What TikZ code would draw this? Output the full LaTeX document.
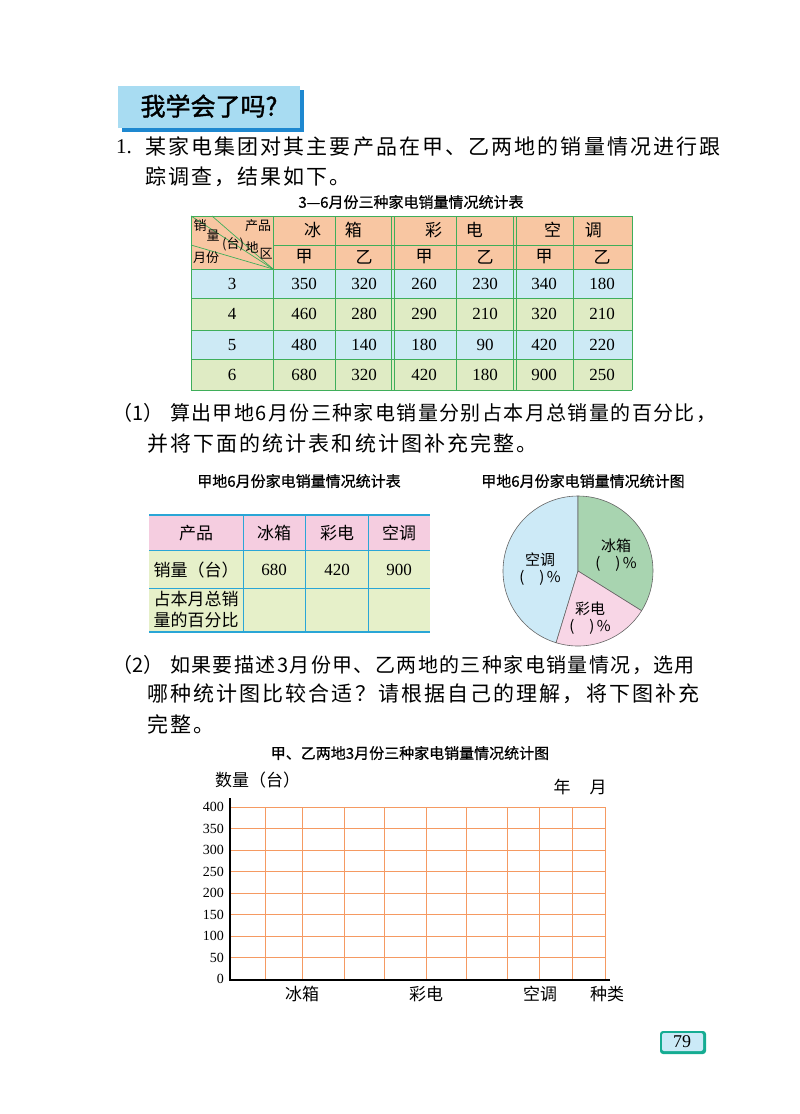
\documentclass[tikz,border=0pt]{standalone}
\usepackage{fontspec}
\setmainfont{Liberation Serif}
\newfontfamily\cjk{Noto Sans CJK SC}
\newfontfamily\cjkb{Noto Sans CJK SC}[FakeBold=1.5]
\newfontfamily\cjksp{Noto Sans CJK SC}[LetterSpace=10]
\newfontfamily\cjkspb{Noto Sans CJK SC}[LetterSpace=7]
\newfontfamily\hei{Noto Sans CJK SC}[FakeBold=0.8]
\definecolor{hOr}{HTML}{F8C6A2}
\definecolor{rBl}{HTML}{CDEAF5}
\definecolor{rGr}{HTML}{DFEBC4}
\definecolor{gLn}{HTML}{3FAE5A}
\definecolor{pk}{HTML}{F5CDE0}
\definecolor{lg}{HTML}{E6F0C9}
\definecolor{bLn}{HTML}{2AA6D6}
\definecolor{pBl}{HTML}{CDEAF7}
\definecolor{pGr}{HTML}{A8D4B0}
\definecolor{pPk}{HTML}{F8D6E6}
\definecolor{grd}{HTML}{F59A62}
\definecolor{hdr}{HTML}{A8DCF2}
\definecolor{hdrS}{HTML}{1E88D0}
\tikzset{
 body/.style={anchor=west,inner sep=0,font=\fontsize{21}{21}\cjksp},
 bodyb/.style={anchor=west,inner sep=0,font=\fontsize{20}{20}\cjkspb},
 ttl/.style={inner sep=0,font=\fontsize{15}{15}\hei},
 num/.style={inner sep=0,font=\fontsize{17}{17}\selectfont},
 ct/.style={inner sep=0,font=\fontsize{17}{17}\cjk},
 sm/.style={inner sep=0,font=\fontsize{13}{13}\cjk},
 pl/.style={inner sep=0,align=center,font=\fontsize{15}{17}\cjk},
}
\begin{document}
\begin{tikzpicture}[x=1pt,y=-1pt]
\useasboundingbox (0,0) rectangle (800,1114);
% header
\fill[hdrS] (122,90) rectangle (304,132);
\fill[hdr] (118,86) rectangle (300,128);
\node[inner sep=0,font=\fontsize{25}{25}\cjkb] (hd) at (209,106) {我学会了吗?};
\node[anchor=west,inner sep=0,font=\fontsize{21}{21}\selectfont] (n1) at (116,147) {1.};
\node[body] (l1) at (145,147) {某家电集团对其主要产品在甲、乙两地的销量情况进行跟};
\node[body] (l2) at (145,177) {踪调查，结果如下。};
% table 1
\node[ttl] (t1) at (411,202) {3—6月份三种家电销量情况统计表};
\fill[hOr] (191,216) rectangle (632,269);
\fill[rBl] (191,269) rectangle (632,298);
\fill[rGr] (191,298) rectangle (632,330);
\fill[rBl] (191,330) rectangle (632,359);
\fill[rGr] (191,359) rectangle (632,390);
\begin{scope}[gLn,line width=1pt]
\foreach \y in {216,269,298,330,359,390} \draw (191,\y) -- (632,\y);
\draw (273,245) -- (632,245);
\foreach \x in {191,273,335,456,573,632} \draw (\x,216) -- (\x,390);
\foreach \x in {393,515} {\draw (\x-1.5,216) -- (\x-1.5,390); \draw (\x+1.5,216) -- (\x+1.5,390);}
\draw[line width=0.7pt] (191,216) -- (273,269);
\draw[line width=0.7pt] (212,216) -- (273,269);
\draw[line width=0.7pt] (191,245) -- (273,269);
\end{scope}
\node[sm] at (200,226) {销};
\node[sm] at (213,236) {量};
\node[sm] at (233,244) {(台)};
\node[sm] at (258,226) {产品};
\node[sm] at (252,247) {地};
\node[sm] at (266,254) {区};
\node[sm] at (206,258) {月份};
\node[ct] at (333,230) {冰\hspace{24pt}箱};
\node[ct] at (454,230) {彩\hspace{24pt}电};
\node[ct] at (573,230) {空\hspace{24pt}调};
\foreach \x/\t in {304/甲,364/乙,424/甲,485/乙,544/甲,602/乙} \node[ct] at (\x,257) {\t};
\foreach \y/\m/\a/\b/\c/\d/\e/\f in {284/3/350/320/260/230/340/180,314/4/460/280/290/210/320/210,345/5/480/140/180/90/420/220,375/6/680/320/420/180/900/250}{
 \node[num] at (232,\y) {\m};
 \node[num] at (304,\y) {\a}; \node[num] at (364,\y) {\b};
 \node[num] at (424,\y) {\c}; \node[num] at (485,\y) {\d};
 \node[num] at (544,\y) {\e}; \node[num] at (602,\y) {\f};}
% (1)
\node[anchor=west,inner sep=0,font=\fontsize{20}{20}\cjk] (p1n) at (112,413) {（1）};
\node[bodyb] (p1) at (170,413) {算出甲地6月份三种家电销量分别占本月总销量的百分比，};
\node[body] (p1b) at (147,443) {并将下面的统计表和统计图补充完整。};
% table 2
\node[ttl] (t2) at (299,481) {甲地6月份家电销量情况统计表};
\fill[pk] (149,515) rectangle (430,550);
\fill[lg] (149,550) rectangle (430,632);
\begin{scope}[bLn,line width=1pt]
\draw[line width=1.8pt] (149,515) -- (430,515);
\draw[line width=1.8pt] (149,632) -- (430,632);
\draw (149,550) -- (430,550); \draw (149,588) -- (430,588);
\foreach \x in {243,305,368} \draw (\x,515) -- (\x,632);
\end{scope}
\node[ct] at (196,533) {产品};
\node[ct] at (274,533) {冰箱};
\node[ct] at (337,533) {彩电};
\node[ct] at (399,533) {空调};
\node[ct] at (196,570) {销量（台）};
\node[num] at (274,570) {680};
\node[num] at (337,570) {420};
\node[num] at (399,570) {900};
\node[inner sep=0,align=left,font=\fontsize{17}{21}\cjk] at (196,610) {占本月总销\\量的百分比};
% pie
\node[ttl] (t3) at (583,481) {甲地6月份家电销量情况统计图};
\begin{scope}[shift={(578,571)},y=1pt]
\filldraw[fill=pBl,draw=gray!80!black,line width=0.6pt] (0,0) -- (90:75) arc (90:253:75) -- cycle;
\filldraw[fill=pGr,draw=gray!80!black,line width=0.6pt] (0,0) -- (90:75) arc (90:-32:75) -- cycle;
\filldraw[fill=pPk,draw=gray!80!black,line width=0.6pt] (0,0) -- (-32:75) arc (-32:-107:75) -- cycle;
\end{scope}
\node[pl] at (540,569) {空调\\(\quad)\,\%};
\node[pl] at (616,555) {冰箱\\(\quad)\,\%};
\node[pl] at (590,618) {彩电\\(\quad)\,\%};
% (2)
\node[anchor=west,inner sep=0,font=\fontsize{20}{20}\cjk] (q1n) at (112,665) {（2）};
\node[bodyb] (q1) at (170,665) {如果要描述3月份甲、乙两地的三种家电销量情况，选用};
\node[body] (q2) at (147,694) {哪种统计图比较合适？请根据自己的理解，将下图补充};
\node[body] (q3) at (147,724) {完整。};
% chart
\node[ttl] (t4) at (410,753) {甲、乙两地3月份三种家电销量情况统计图};
\node[ct,anchor=west] at (215,780) {数量（台）};
\node[ct] at (562,787) {年};
\node[ct] at (598,787) {月};
\begin{scope}[grd,line width=0.9pt]
\foreach \i in {0,...,8} \draw (230,{979-21.5*\i}) -- (605,{979-21.5*\i});
\foreach \x in {265,302,344,384,426,466,507,539,572,605} \draw (\x,807) -- (\x,979);
\end{scope}
\draw[line width=1.3pt] (230,798) -- (230,980) -- (610,980);
\foreach \i/\v in {0/0,1/50,2/100,3/150,4/200,5/250,6/300,7/350,8/400}
 \node[inner sep=0,anchor=east,font=\fontsize{14}{14}\selectfont] at (224,{979-21.5*\i}) {\v};
\node[ct] at (302,994) {冰箱};
\node[ct] at (426,994) {彩电};
\node[ct] at (540,994) {空调};
\node[ct] at (607,994) {种类};
% page number
\fill[hdrS!70!green,rounded corners=3pt] (660,1031) rectangle (706,1054);
\fill[hdr!60!white,rounded corners=2pt] (662,1033) rectangle (703,1051);
\node[inner sep=0,font=\fontsize{18}{18}\selectfont] (pg) at (682,1042) {79};
\end{tikzpicture}
\end{document}
